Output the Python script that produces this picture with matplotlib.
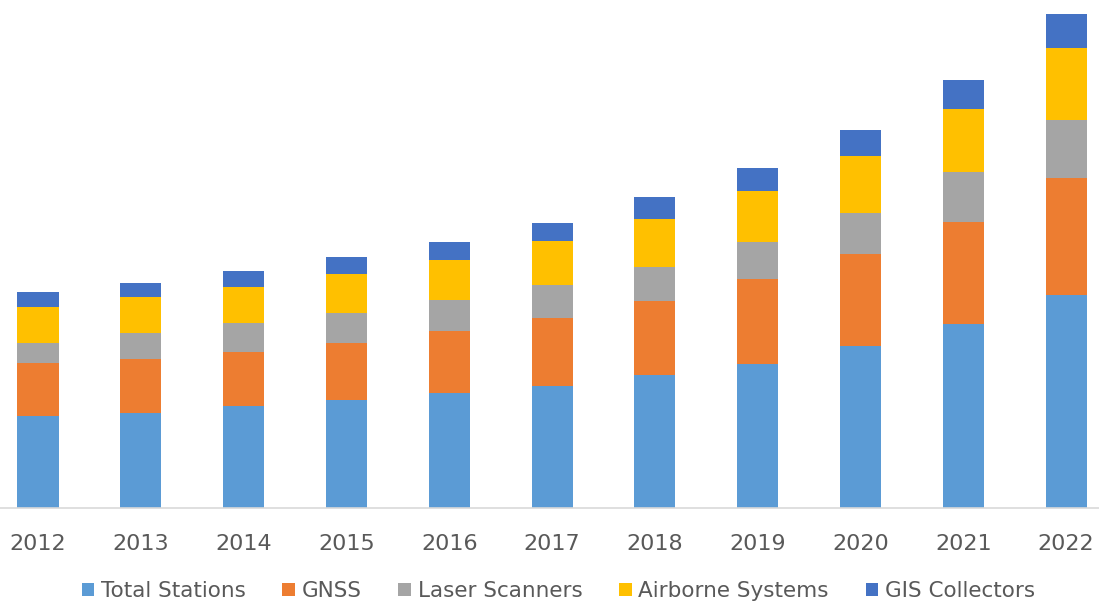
import numpy as np
import matplotlib
matplotlib.use('Agg')
import matplotlib.pyplot as plt

# ---- data ----
years = ['2012', '2013', '2014', '2015', '2016', '2017', '2018', '2019', '2020', '2021', '2022']
total_stations = [92, 95, 102, 108, 115, 122, 133, 144, 162, 184, 213]
gnss           = [53, 54, 54, 57, 62, 68, 74, 85, 92, 102, 117]
laser_scanners = [20, 26, 29, 30, 31, 33, 34, 37, 41, 50, 58]
airborne       = [36, 36, 36, 39, 40, 44, 48, 51, 57, 63, 72]
gis_collectors = [15, 14, 16, 17, 18, 18, 22, 23, 26, 29, 34]

series = [
    ('Total Stations', total_stations, '#5B9BD5'),
    ('GNSS', gnss, '#ED7D31'),
    ('Laser Scanners', laser_scanners, '#A5A5A5'),
    ('Airborne Systems', airborne, '#FFC000'),
    ('GIS Collectors', gis_collectors, '#4472C4'),
]

plt.rcParams['font.family'] = ['DejaVu Sans']

fig = plt.figure(figsize=(10.99, 6.07), dpi=100)
ax = fig.add_axes([0.0, 0.163, 1.0, 0.837])

x = np.arange(len(years))
bottom = np.zeros(len(years))
for name, vals, col in series:
    ax.bar(x, vals, width=0.4, bottom=bottom, color=col, label=name, linewidth=0)
    bottom += np.array(vals)

ax.set_xlim(-0.37, 10.32)
ax.set_ylim(0, 508)
ax.set_xticks(x)
ax.set_xticklabels(years, fontsize=16, color='#595959')
ax.tick_params(axis='x', length=0, pad=19)
ax.set_yticks([])
for s in ['top', 'right', 'left']:
    ax.spines[s].set_visible(False)
ax.spines['bottom'].set_color('#D9D9D9')
ax.spines['bottom'].set_linewidth(1.2)

fig.legend(loc='lower center', bbox_to_anchor=(0.508, -0.022), ncol=5, frameon=False,
           fontsize=15.5, handlelength=0.6, handleheight=0.6, handletextpad=0.3,
           columnspacing=1.7, labelcolor='#595959')

fig.savefig('out.png', dpi=100)
